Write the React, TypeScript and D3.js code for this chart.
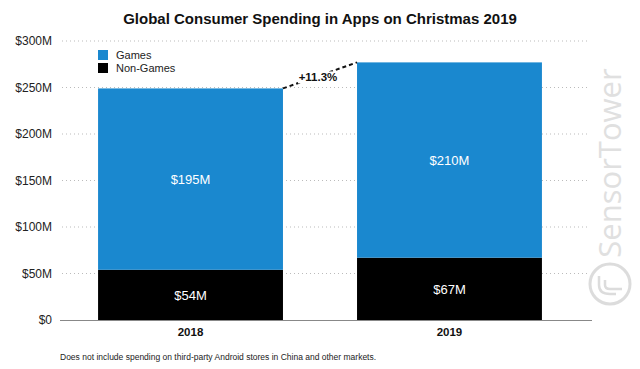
import React from "react";
import * as d3 from "d3";

const years = ["2018", "2019"];
const nonGames = [54, 67];
const games = [195, 210];
const yTicks = [0, 50, 100, 150, 200, 250, 300];
const growthLabel = "+11.3%";

const W = 640, H = 369;
const BLUE = "#1a88cf";

export default function App() {
  const y = d3.scaleLinear().domain([0, 300]).range([320, 41]);
  const x = d3.scaleBand().domain(years).range([60, 580]).paddingInner(0.286).paddingOuter(0.147);
  const font = "'Liberation Sans', Arial, sans-serif";
  const totals = years.map((_, i) => nonGames[i] + games[i]);
  const bw = x.bandwidth();
  const x0 = x(years[0])! + bw, y0 = y(totals[0]);
  const x1 = x(years[1])!, y1 = y(totals[1]);
  const lx = (x0 + x1) / 2 - 2, ly = (y0 + y1) / 2 + 6;
  return (
    <svg width={W} height={H} style={{ position: "absolute", left: 0, top: 0, background: "#fff" }} fontFamily={font}>
      <text x={320} y={24} textAnchor="middle" fontSize={15} fontWeight="bold" fill="#111">
        Global Consumer Spending in Apps on Christmas 2019
      </text>
      {/* watermark */}
      <g fill="none" stroke="#dcdcdc">
        <text transform="translate(621,163) rotate(-90)" textAnchor="middle" fontSize={31} fill="#e0e0e0" stroke="none" fontFamily="'Open Sans', sans-serif">SensorTower</text>
        <circle cx={610} cy={284} r={20} strokeWidth={3} />
        <path d="M599,276 L599,285 Q599,294 610,294 L616,294 M605,280 L605,285 Q605,289 610,289 L622,289" strokeWidth={2.5} />
      </g>
      {yTicks.map((t) => (
        <g key={t}>
          {t > 0 && (
            <line x1={62} x2={590} y1={y(t)} y2={y(t)} stroke="#bbb" strokeWidth={1} strokeDasharray="1,3" />
          )}
          <text x={52} y={y(t) + 4} textAnchor="end" fontSize={12} fill="#222">
            {t === 0 ? "$0" : `$${t}M`}
          </text>
        </g>
      ))}
      {years.map((yr, i) => (
        <g key={yr}>
          <rect x={x(yr)} width={bw} y={y(nonGames[i])} height={y(0) - y(nonGames[i])} fill="#000" />
          <rect x={x(yr)} width={bw} y={y(totals[i])} height={y(nonGames[i]) - y(totals[i])} fill={BLUE} />
          <text x={x(yr)! + bw / 2} y={(y(nonGames[i]) + y(totals[i])) / 2 + 5} textAnchor="middle" fontSize={13} fill="#fff">
            ${games[i]}M
          </text>
          <text x={x(yr)! + bw / 2} y={(y(0) + y(nonGames[i])) / 2 + 5} textAnchor="middle" fontSize={13} fill="#fff">
            ${nonGames[i]}M
          </text>
          <text x={x(yr)! + bw / 2} y={336} textAnchor="middle" fontSize={11.5} fontWeight="bold" fill="#111">
            {yr}
          </text>
        </g>
      ))}
      <line x1={60} x2={592} y1={320.5} y2={320.5} stroke="#888" strokeWidth={1.2} />
      <line x1={x0} y1={y0} x2={x1} y2={y1} stroke="#111" strokeWidth={2} strokeDasharray="4,3" />
      <rect x={lx - 20} y={ly - 10} width={40} height={12} fill="#fff" />
      <text x={lx} y={ly} textAnchor="middle" fontSize={11.5} fontWeight="bold" fill="#111">
        {growthLabel}
      </text>
      {/* legend */}
      <rect x={98} y={50} width={10} height={10} fill={BLUE} />
      <text x={116} y={59} fontSize={11} fill="#222">Games</text>
      <rect x={98} y={63} width={10} height={10} fill="#000" />
      <text x={116} y={72} fontSize={11} fill="#222">Non-Games</text>
      <text x={60} y={360} fontSize={8.5} fill="#222">
        Does not include spending on third-party Android stores in China and other markets.
      </text>
    </svg>
  );
}
